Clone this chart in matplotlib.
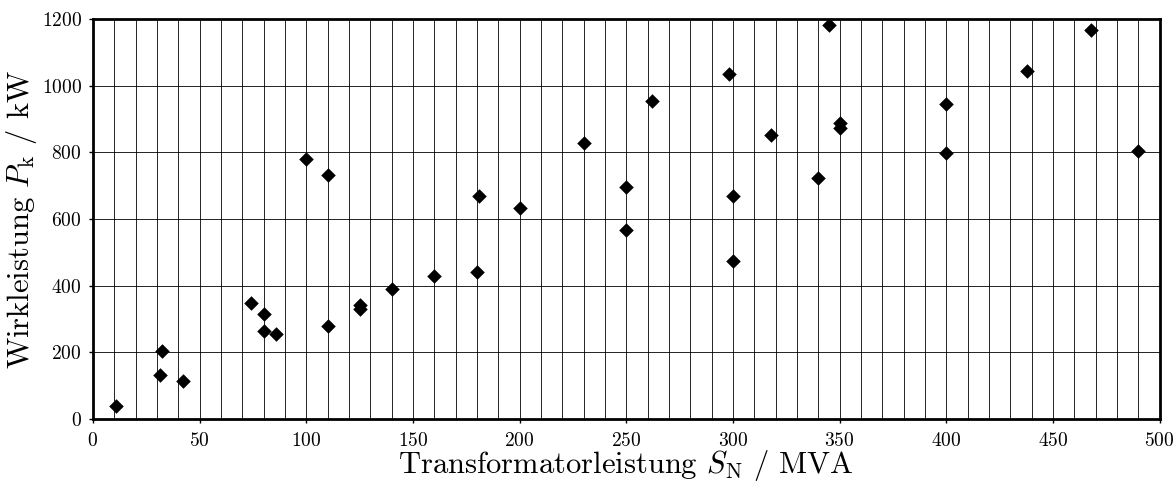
import numpy as np
import matplotlib
matplotlib.use("Agg")
import matplotlib.pyplot as plt

plt.rcParams['font.family'] = 'cmr10'
plt.rcParams['mathtext.fontset'] = 'cm'
plt.rcParams['axes.formatter.use_mathtext'] = True

# Bemessungsleistung (MVA) und Kurzschlussverluste (kW)
s_n = [11, 31.5, 32.5, 42, 74, 80, 80, 86, 100, 110, 110, 125, 125, 140,
       160, 180, 181, 200, 230, 250, 250, 262, 298, 300, 300, 318, 340,
       345, 350, 350, 400, 400, 438, 468, 490]
p_k = [41, 132, 205, 114, 347, 315, 264, 255, 779, 731, 279, 342, 330, 390,
       429, 442, 668, 633, 827, 697, 567, 955, 1035, 670, 475, 853, 722,
       1182, 887, 872, 946, 797, 1043, 1168, 804]

x_ticks = np.arange(0, 501, 50)
y_ticks = np.arange(0, 1201, 200)

fig = plt.figure(figsize=(11.76, 4.88), dpi=100)
ax = fig.add_axes([0.079, 0.141, 0.907, 0.820])

ax.scatter(s_n, p_k, marker='D', s=55, color='black', zorder=3,
           linewidths=0)

ax.set_xlim(0, 500)
ax.set_ylim(0, 1200)
ax.set_xticks(x_ticks)
ax.set_yticks(y_ticks)
ax.set_xticks(np.arange(0, 501, 10), minor=True)
ax.grid(True, which='both', axis='x', color='black', linewidth=0.6)
ax.grid(True, which='major', axis='y', color='black', linewidth=0.6)
ax.tick_params(which='minor', length=0)
ax.tick_params(which='major', length=3, width=1, labelsize=14, direction='out')
ax.tick_params(axis='x', pad=6)
ax.tick_params(axis='y', pad=5)

for sp in ax.spines.values():
    sp.set_linewidth(2)
    sp.set_zorder(4)

ax.set_xlabel(r'Transformatorleistung $S_\mathrm{N}$ / MVA', fontsize=22,
              labelpad=-1)
ax.set_ylabel(r'Wirkleistung $P_\mathrm{k}$ / kW', fontsize=22, labelpad=2)

fig.savefig('out.png', dpi=100)
